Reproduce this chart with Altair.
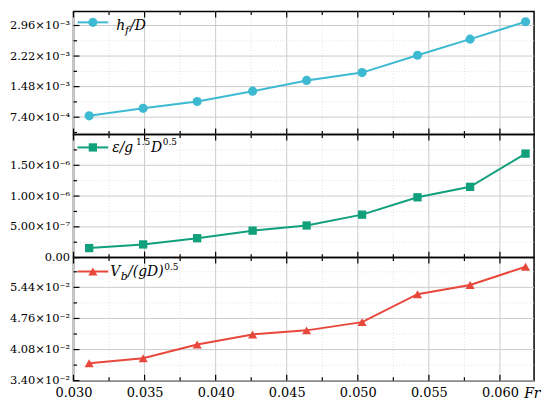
import altair as alt
import pandas as pd

# ---- data ----
fr = [0.0311, 0.0349, 0.0387, 0.0426, 0.0464, 0.0503, 0.0542, 0.0579, 0.0618]
hf_D = [7.73e-4, 9.54e-4, 1.12e-3, 1.37e-3, 1.63e-3, 1.82e-3, 2.24e-3, 2.63e-3, 3.05e-3]
eps_g = [1.55e-7, 2.14e-7, 3.15e-7, 4.38e-7, 5.22e-7, 6.98e-7, 9.80e-7, 1.15e-6, 1.69e-6]
vb_gD = [3.78e-2, 3.89e-2, 4.19e-2, 4.41e-2, 4.50e-2, 4.68e-2, 5.29e-2, 5.49e-2, 5.89e-2]

x_major = [0.030, 0.035, 0.040, 0.045, 0.050, 0.055, 0.060]
x_minor = [0.0325, 0.0375, 0.0425, 0.0475, 0.0525, 0.0575]

y1_major = [7.4e-4, 1.48e-3, 2.22e-3, 2.96e-3]
y1_minor = [3.7e-4, 1.11e-3, 1.85e-3, 2.59e-3]
y2_major = [0.0, 5e-7, 1e-6, 1.5e-6]
y2_minor = [2.5e-7, 7.5e-7, 1.25e-6, 1.75e-6]
y3_major = [0.034, 0.0408, 0.0476, 0.0544]
y3_minor = [0.0374, 0.0442, 0.051, 0.0578]

X_DOMAIN = [0.030, 0.0624]
W, H = 464, 124
FONT = "DejaVu Serif"

LABEL_EXPR = (
    "datum.value == 0 ? '0.00' : "
    "format(datum.value / pow(10, floor(log(datum.value)/LN10 + 1e-9)), '.2f') + '×10⁻' + "
    "['⁰','¹','²','³','⁴','⁵','⁶','⁷','⁸','⁹'][-floor(log(datum.value)/LN10 + 1e-9)]"
)


def df(col, vals):
    return pd.DataFrame({col: vals})


def panel(vals, ydom, ymaj, ymin, color, shape, msize, legend_parts, leg_y, show_x):
    xs = alt.Scale(domain=X_DOMAIN, nice=False, zero=False)
    ys = alt.Scale(domain=ydom, nice=False, zero=False)
    if show_x:
        xaxis = alt.Axis(values=x_major, format=".3f", title=None, ticks=False, domain=False, grid=False,
                         labelPadding=6, labelFontSize=13, labelFont=FONT, labelColor="black",
                         labelFlush=False)
    else:
        xaxis = None
    yaxis = alt.Axis(values=ymaj, labelExpr=LABEL_EXPR, title=None, ticks=False, domain=False, grid=False,
                     labelPadding=4, labelFontSize=11.5, labelFont=FONT, labelColor="black",
                     labelOverlap=False, labelFlush=False)

    def X(f):
        return alt.X(f, scale=xs, axis=xaxis)

    def Y(f):
        return alt.Y(f, scale=ys, axis=yaxis)

    layers = []
    # grid lines
    layers.append(alt.Chart(df("t", x_minor)).mark_rule(color="#d9d9d9", strokeWidth=0.8, strokeDash=[1, 2])
                  .encode(x=X("t:Q")))
    layers.append(alt.Chart(df("t", ymin)).mark_rule(color="#d9d9d9", strokeWidth=0.8, strokeDash=[1, 2])
                  .encode(y=Y("t:Q")))
    layers.append(alt.Chart(df("t", x_major)).mark_rule(color="#cccccc", strokeWidth=1)
                  .encode(x=X("t:Q")))
    layers.append(alt.Chart(df("t", ymaj)).mark_rule(color="#cccccc", strokeWidth=1)
                  .encode(y=Y("t:Q")))
    # inward ticks: top / bottom
    for tv, ln in ((x_major, 6), (x_minor, 3.5)):
        layers.append(alt.Chart(df("t", tv)).mark_rule(color="black", strokeWidth=1.2)
                      .encode(x=X("t:Q"), y=alt.value(0), y2=alt.value(ln)))
        layers.append(alt.Chart(df("t", tv)).mark_rule(color="black", strokeWidth=1.2)
                      .encode(x=X("t:Q"), y=alt.value(H), y2=alt.value(H - ln)))
    # inward ticks: left
    for tv, ln in ((ymaj, 6), (ymin, 3.5)):
        layers.append(alt.Chart(df("t", tv)).mark_rule(color="black", strokeWidth=1.2)
                      .encode(y=Y("t:Q"), x=alt.value(0), x2=alt.value(ln)))

    data = pd.DataFrame({"fr": fr, "v": vals})
    base = alt.Chart(data).encode(x=X("fr:Q"), y=Y("v:Q"))
    layers.append(base.mark_line(color=color, strokeWidth=2))
    layers.append(base.mark_point(filled=True, opacity=1, shape=shape, size=msize, color=color))

    # legend (symbol + composed text)
    one = df("a", [0])
    layers.append(alt.Chart(one).mark_rule(color=color, strokeWidth=2)
                  .encode(x=alt.value(4), x2=alt.value(35), y=alt.value(leg_y)))
    layers.append(alt.Chart(one).mark_point(filled=True, opacity=1, shape=shape, size=msize, color=color)
                  .encode(x=alt.value(19.5), y=alt.value(leg_y)))
    for txt, px, py, fs, italic in legend_parts:
        layers.append(alt.Chart(one).mark_text(text=txt, align="left", baseline="alphabetic", font=FONT,
                                               fontSize=fs, fontStyle="italic" if italic else "normal",
                                               color="black")
                      .encode(x=alt.value(px), y=alt.value(py)))
    if show_x:
        layers.append(alt.Chart(one).mark_text(text="Fr", align="left", baseline="alphabetic", font=FONT,
                                               fontSize=14, fontStyle="italic", color="black")
                      .encode(x=alt.value(W - 10), y=alt.value(H + 17)))
    return alt.layer(*layers).properties(width=W, height=H)


leg1 = [("h", 43, 19, 14, True), ("f", 52, 23, 11, True), ("/D", 57, 19, 14, True)]
leg2 = [("ε/g", 39, 18, 14, True), ("1.5", 63, 11, 9, False), ("D", 78, 18, 14, True), ("0.5", 90, 11, 9, False)]
leg3 = [("V", 37, 19, 14, True), ("b", 47.5, 23, 11, True), ("/(gD)", 55, 19, 14, True), ("0.5", 91.5, 12, 9, False)]

p1 = panel(hf_D, [0.00032, 0.0033], y1_major, y1_minor, "#3dbad2", "circle", 85, leg1, 11, False)
p2 = panel(eps_g, [0.0, 2e-6], y2_major, y2_minor, "#10a07c", "square", 70, leg2, 13, False)
p3 = panel(vb_gD, [0.034, 0.0609], y3_major, y3_minor, "#e8473b", "triangle-up", 85, leg3, 14, True)

chart = (
    alt.vconcat(p1, p2, p3, spacing=0, bounds="flush")
    .resolve_scale(y="independent")
    .properties(padding={"left": 0, "top": 0, "right": 0, "bottom": 0}, background="white")
    .configure_view(stroke="black", strokeWidth=1.5)
    .configure_concat(spacing=0)
)

chart.save("out.html", embed_options={"renderer": "svg", "actions": False})
